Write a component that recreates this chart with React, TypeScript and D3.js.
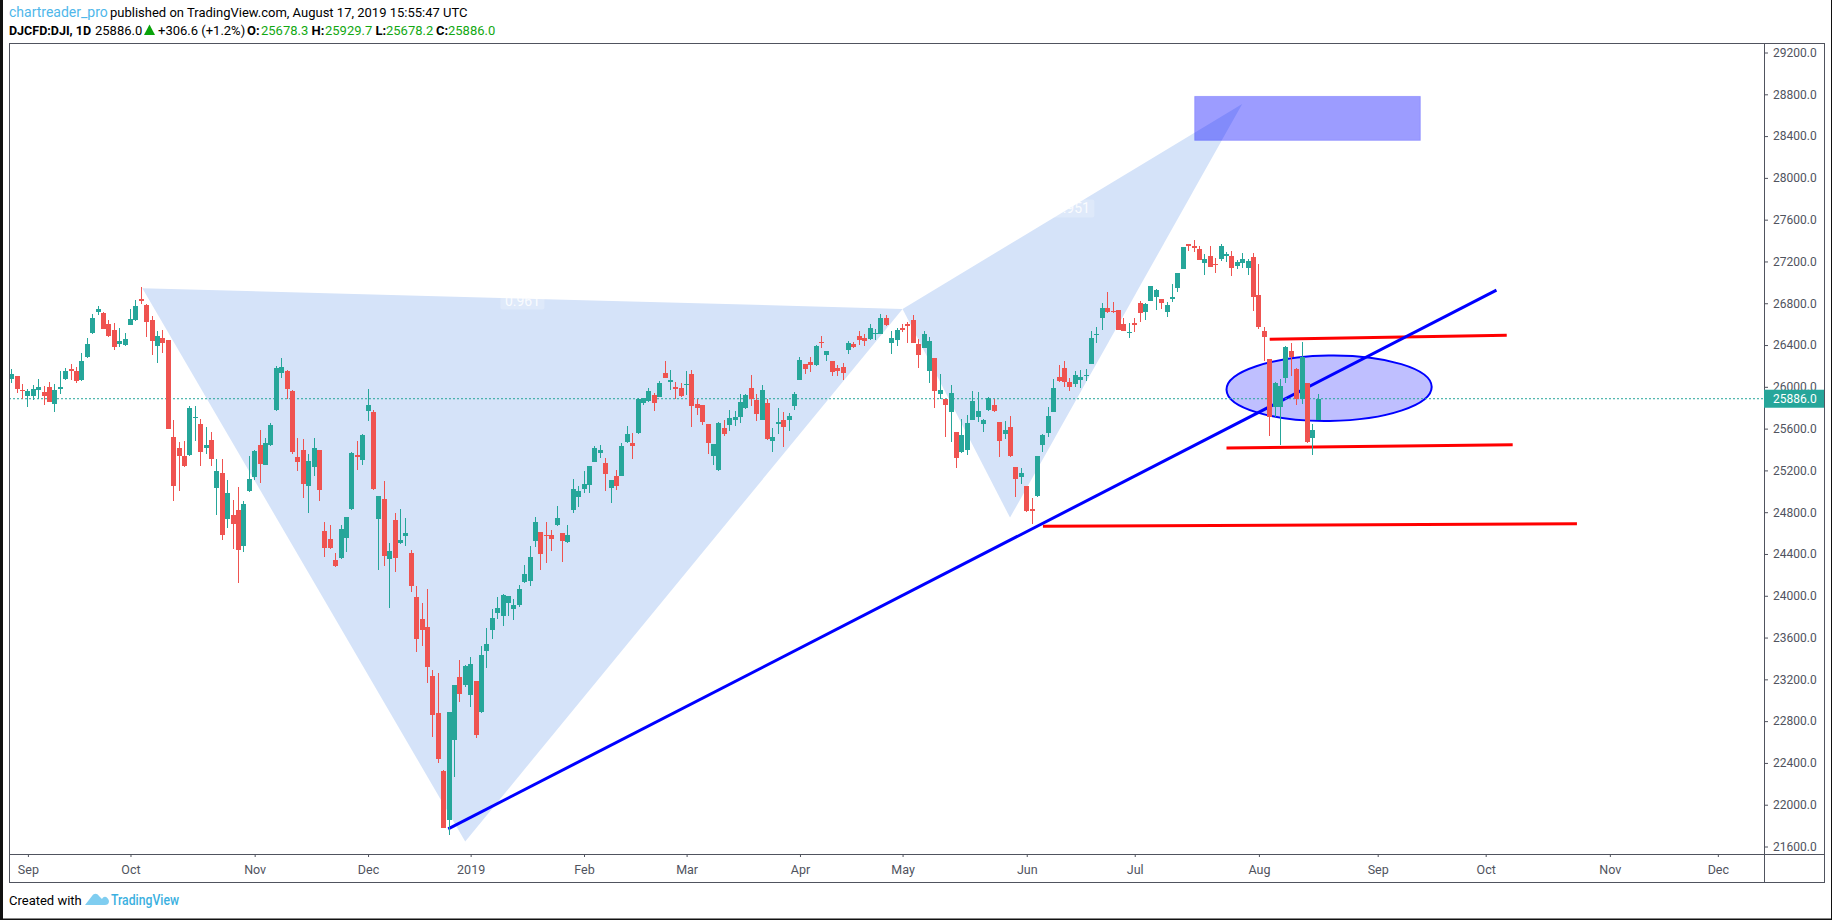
import { useEffect, useRef } from 'react'
import * as d3 from 'd3'

const WIDTH = 1832
const HEIGHT = 920

const opens = [
  26073, 26101, 25967, 25910, 25910, 25967, 25948, 25996, 25833, 25977,
  26073, 26168, 26149, 26063, 26283, 26513, 26714, 26705, 26600, 26542,
  26408, 26398, 26590, 26638, 26839, 26782, 26638, 26389, 26465, 26446,
  25517, 25412, 25335, 25345, 25699, 25641, 25412, 25488, 25028, 25172,
  24731, 24770, 24818, 24473, 25000, 25134, 25440, 25249, 25440, 25776,
  26130, 26149, 25958, 25325, 25392, 25048, 25230, 25392, 24617, 24540,
  24339, 24358, 24549, 24827, 25345, 25297, 25766, 25756, 24731, 24923,
  24348, 24722, 24502, 24569, 24406, 23985, 23774, 23697, 23228, 22874,
  22318, 21849, 22624, 23218, 23142, 23046, 23180, 22883, 23467, 23669,
  23831, 23802, 23927, 23870, 23908, 24128, 24138, 24521, 24607, 24578,
  24578, 24674, 24598, 24511, 24818, 24942, 25019, 25057, 25278, 25364,
  25268, 25029, 25144, 25144, 25469, 25459, 25555, 25842, 25862, 25919,
  25900, 26130, 26044, 25996, 25986, 26015, 26120, 25833, 25823, 25641,
  25335, 25200, 25603, 25632, 25680, 25708, 25794, 25986, 25871, 25680,
  25842, 25478, 25641, 25679, 25679, 25814, 26063, 26216, 26235, 26206,
  26427, 26302, 26245, 26178, 26187, 26350, 26407, 26484, 26465, 26455,
  26503, 26503, 26657, 26417, 26446, 26561, 26599, 26637, 26407, 26369,
  26149, 26273, 25929, 25881, 25756, 25564, 25373, 25392, 25680, 25708,
  25641, 25775, 25823, 25661, 25546, 25613, 25230, 25134, 25048, 24827,
  24952, 25440, 25555, 25757, 26092, 26178, 26044, 26025, 26063, 26101,
  26216, 26494, 26657, 26753, 26724, 26734, 26600, 26513, 26609, 26801,
  26714, 26820, 26858, 26839, 26714, 26839, 26944, 27126, 27366, 27347,
  27318, 27184, 27251, 27174, 27222, 27251, 27251, 27155, 27184, 27136,
  27241, 26877, 26533, 26264, 25804, 25804, 26082, 26341, 26168, 25887,
  26034, 25508, 25678.3,
]

const highs = [
  26172, 26105, 26025, 25977, 26015, 26073, 26006, 26044, 26025, 26149,
  26184, 26216, 26188, 26322, 26465, 26695, 26772, 26714, 26638, 26609,
  26561, 26513, 26743, 26829, 26954, 26791, 26676, 26532, 26542, 26446,
  25680, 25469, 25479, 25814, 25814, 25689, 25613, 25565, 25306, 25306,
  25105, 24914, 25038, 24904, 25335, 25392, 25584, 25507, 25651, 26197,
  26274, 26159, 25967, 25507, 25498, 25354, 25507, 25395, 24703, 24674,
  24406, 24674, 24755, 25373, 25479, 25546, 25977, 25776, 24955, 25096,
  24502, 24789, 24827, 24741, 24435, 24090, 23927, 24061, 23285, 23257,
  22337, 22890, 23145, 23381, 23333, 23410, 23183, 23515, 23688, 23870,
  23985, 24013, 23998, 23965, 24099, 24291, 24473, 24751, 24610, 24703,
  24626, 24856, 24600, 24674, 25115, 25048, 25191, 25241, 25431, 25441,
  25316, 25108, 25201, 25460, 25622, 25555, 25890, 25895, 25986, 25938,
  26053, 26245, 26158, 26044, 26034, 26149, 26158, 25881, 25830, 25645,
  25453, 25660, 25679, 25775, 25766, 25929, 25929, 26110, 25929, 26015,
  25881, 25603, 25794, 25756, 25746, 25948, 26283, 26218, 26283, 26398,
  26484, 26342, 26247, 26206, 26225, 26436, 26427, 26532, 26503, 26599,
  26551, 26695, 26685, 26532, 26561, 26599, 26618, 26685, 26455, 26532,
  26475, 26275, 26120, 25885, 26015, 25566, 25689, 25727, 25957, 25948,
  25690, 25900, 25881, 25665, 25670, 25718, 25232, 25220, 25050, 24933,
  25338, 25546, 25804, 26073, 26207, 26245, 26082, 26149, 26159, 26168,
  26532, 26571, 26801, 26906, 26810, 26736, 26657, 26609, 26657, 26820,
  26800, 26968, 26940, 26842, 26810, 26983, 27090, 27340, 27368, 27404,
  27347, 27270, 27347, 27232, 27366, 27289, 27299, 27213, 27280, 27222,
  27280, 27174, 26571, 26267, 26044, 26073, 26389, 26418, 26178, 26427,
  26036, 25642, 25929.7,
]

const lows = [
  26034, 25939, 25887, 25804, 25871, 25881, 25824, 25850, 25757, 25929,
  26063, 26069, 26034, 26060, 26280, 26510, 26686, 26550, 26475, 26350,
  26379, 26389, 26588, 26628, 26791, 26475, 26303, 26226, 26322, 25594,
  24904, 25000, 25236, 25342, 25479, 25239, 25354, 25239, 24770, 24530,
  24645, 24444, 24118, 24415, 24998, 25105, 25076, 25247, 25438, 25766,
  26082, 25888, 25354, 25191, 24933, 24789, 25143, 24904, 24367, 24452,
  24272, 24356, 24415, 24825, 25201, 25249, 25670, 25009, 24243, 24281,
  23879, 24224, 24500, 24473, 24032, 23458, 23515, 23161, 22644, 22395,
  21778, 21714, 22270, 22979, 23123, 22931, 22634, 22880, 23305, 23582,
  23774, 23707, 23802, 23764, 23889, 24119, 24090, 24464, 24243, 24310,
  24425, 24672, 24320, 24502, 24789, 24847, 24981, 24981, 25276, 25316,
  25000, 24885, 25010, 25142, 25467, 25306, 25553, 25823, 25855, 25766,
  25898, 26080, 25967, 25881, 25900, 25919, 25612, 25727, 25632, 25354,
  25248, 25198, 25526, 25574, 25622, 25651, 25785, 25814, 25670, 25678,
  25495, 25373, 25545, 25421, 25574, 25775, 26061, 26120, 26139, 26204,
  26369, 26245, 26101, 26101, 26063, 26312, 26369, 26398, 26388, 26446,
  26446, 26501, 26580, 26312, 26388, 26522, 26417, 26415, 26178, 26367,
  26034, 25794, 25881, 25517, 25469, 25220, 25371, 25344, 25678, 25660,
  25565, 25773, 25756, 25325, 25498, 25333, 24942, 25067, 24806, 24684,
  24950, 25373, 25517, 25755, 26050, 25996, 25958, 25996, 25986, 26054,
  26214, 26418, 26542, 26705, 26705, 26540, 26530, 26465, 26523, 26619,
  26638, 26818, 26734, 26743, 26667, 26810, 26906, 27124, 27299, 27289,
  27211, 27069, 27143, 27088, 27203, 27193, 27059, 27126, 27133, 27069,
  26724, 26552, 26245, 25527, 25709, 25440, 26034, 26101, 25824, 25833,
  25467, 25345, 25678.2,
]

const closes = [
  26121, 25977, 25958, 25958, 25977, 25996, 25910, 25852, 25967, 25996,
  26149, 26149, 26054, 26245, 26408, 26657, 26743, 26552, 26485, 26379,
  26437, 26456, 26647, 26772, 26820, 26619, 26437, 26485, 26418, 25594,
  25048, 25335, 25239, 25795, 25709, 25373, 25440, 25306, 25191, 24578,
  24981, 24684, 24435, 24875, 25115, 25383, 25258, 25459, 25632, 26178,
  26188, 25977, 25373, 25278, 25067, 25287, 25412, 25009, 24454, 24454,
  24281, 24636, 24751, 25364, 25325, 25536, 25824, 25019, 24952, 24377,
  24425, 24358, 24530, 24597, 24090, 23582, 23668, 23314, 22854, 22433,
  21781, 22883, 23142, 23056, 23324, 23343, 22672, 23429, 23534, 23784,
  23879, 24004, 23994, 23908, 24061, 24205, 24368, 24703, 24396, 24569,
  24540, 24741, 24521, 24578, 25019, 25000, 25067, 25239, 25412, 25393,
  25163, 25105, 25048, 25431, 25545, 25430, 25881, 25890, 25957, 25842,
  26034, 26082, 26063, 25976, 25909, 26024, 25814, 25794, 25660, 25459,
  25450, 25651, 25545, 25699, 25708, 25852, 25919, 25881, 25737, 25967,
  25497, 25517, 25660, 25612, 25718, 25929, 26254, 26168, 26206, 26388,
  26417, 26340, 26139, 26149, 26130, 26417, 26379, 26446, 26436, 26561,
  26513, 26657, 26589, 26465, 26542, 26542, 26580, 26417, 26302, 26503,
  26436, 25957, 25967, 25823, 25938, 25315, 25536, 25651, 25862, 25766,
  25679, 25890, 25766, 25479, 25584, 25335, 25115, 25172, 24808, 24808,
  25335, 25536, 25718, 25986, 26054, 26044, 25996, 26111, 26092, 26111,
  26465, 26504, 26753, 26714, 26714, 26542, 26532, 26523, 26590, 26705,
  26791, 26964, 26925, 26801, 26782, 26858, 27088, 27337, 27347, 27328,
  27213, 27222, 27145, 27165, 27347, 27270, 27136, 27193, 27222, 27203,
  26858, 26571, 26475, 25709, 26034, 26006, 26379, 26283, 25887, 26287,
  25469, 25584, 25886,
]

const lastPrice = 25886

const priceTicks = d3.range(21600, 29201, 400)

// month labels and the bar number each one sits on
const monthLabels = ['Sep', 'Oct', 'Nov', 'Dec', '2019', 'Feb', 'Mar', 'Apr', 'May', 'Jun', 'Jul', 'Aug', 'Sep', 'Oct', 'Nov', 'Dec']
const monthBars = [3, 22, 45, 66, 85, 106, 125, 146, 165, 188, 208, 231, 253, 273, 296, 316]

// drawings, as [bar number, price]
const harmonicXAB: [number, number][] = [[24.2, 26944], [84, 21648], [165, 26746]]
const harmonicBCD: [number, number][] = [[165, 26746], [184.9, 24748], [227.9, 28707]]
const harmonicLabels = ['0.961', '0.951']
const trendLine: [number, number][] = [[80.85, 21769], [275, 26925]]
const redLines: [number, number][][] = [
  [[233, 26456], [276.9, 26494]],
  [[225, 25415], [278, 25445]],
  [[191, 24665], [289.9, 24689]],
]
const targetBox: [number, number][] = [[219.1, 28780], [260.9, 28359]]
const ellipseCenter: [number, number] = [244, 25986]
const ellipseRadii: [number, number] = [19, 313]

const TEAL = '#26a69a'
const RED = '#ef5350'
const AXIS = '#50535e'
const INK = '#000'
const FONT = 'Roboto, sans-serif'

const App = () => {
  const svgRef = useRef<SVGSVGElement>(null)

  useEffect(() => {
    if (!svgRef.current) return

    const plot = { left: 9, right: 1764, top: 43, bottom: 854 }
    const frameRight = 1824
    const frameBottom = 882

    const x = d3.scaleLinear().domain([0, 242]).range([11.7, 1318.3])
    const y = d3.scaleLinear().domain([21600, 28800]).range([846.5, 94.3])

    const svg = d3.select(svgRef.current)
    svg.selectAll('*').remove()

    svg.append('rect').attr('width', WIDTH).attr('height', HEIGHT).attr('fill', '#fff')

    svg.append('clipPath').attr('id', 'plot-clip')
      .append('rect')
      .attr('x', plot.left).attr('y', plot.top)
      .attr('width', plot.right - plot.left).attr('height', plot.bottom - plot.top)

    const pane = svg.append('g').attr('clip-path', 'url(#plot-clip)')
    const line = d3.line<[number, number]>().x(d => x(d[0])).y(d => y(d[1]))

    // harmonic pattern
    pane.selectAll('.harmonic')
      .data([harmonicXAB, harmonicBCD])
      .enter().append('path')
      .attr('class', 'harmonic')
      .attr('d', d => line(d) + 'Z')
      .attr('fill', '#d5e3f9')

    // ratio labels, half way along X-B and B-D
    const labelSpots = [[harmonicXAB[0], harmonicXAB[2]], [harmonicBCD[0], harmonicBCD[2]]]
    labelSpots.forEach((pair, i) => {
      const cx = (x(pair[0][0]) + x(pair[1][0])) / 2
      const cy = (y(pair[0][1]) + y(pair[1][1])) / 2 + 2
      pane.append('rect')
        .attr('x', cx - 22).attr('y', cy - 9)
        .attr('width', 44).attr('height', 18).attr('rx', 2)
        .attr('fill', '#fff').attr('fill-opacity', 0.22)
      pane.append('text')
        .attr('x', cx).attr('y', cy + 5)
        .attr('text-anchor', 'middle')
        .style('font', `14px ${FONT}`)
        .attr('fill', '#fff').attr('fill-opacity', 0.85)
        .text(harmonicLabels[i])
    })

    // target box
    pane.append('rect')
      .attr('x', x(targetBox[0][0])).attr('y', y(targetBox[0][1]))
      .attr('width', x(targetBox[1][0]) - x(targetBox[0][0]))
      .attr('height', y(targetBox[1][1]) - y(targetBox[0][1]))
      .attr('fill', 'rgba(0,0,255,0.39)')
      .attr('stroke', 'rgba(0,0,255,0.2)')

    // ellipse
    const ex = x(ellipseCenter[0])
    const ey = y(ellipseCenter[1])
    pane.append('ellipse')
      .attr('cx', ex).attr('cy', ey)
      .attr('rx', x(ellipseCenter[0] + ellipseRadii[0]) - ex)
      .attr('ry', y(ellipseCenter[1] - ellipseRadii[1]) - ey)
      .attr('transform', `rotate(-0.8 ${ex} ${ey})`)
      .attr('fill', 'rgba(0,0,255,0.25)')
      .attr('stroke', '#0000ff')
      .attr('stroke-width', 2)

    // support and resistance
    pane.selectAll('.level')
      .data(redLines)
      .enter().append('path')
      .attr('class', 'level')
      .attr('d', d => line(d))
      .attr('stroke', '#ff0000')
      .attr('stroke-width', 3)
      .attr('fill', 'none')

    pane.append('path')
      .attr('d', line(trendLine))
      .attr('stroke', '#0000ff')
      .attr('stroke-width', 3)
      .attr('fill', 'none')

    // last price line
    pane.append('line')
      .attr('x1', plot.left).attr('x2', plot.right)
      .attr('y1', y(lastPrice)).attr('y2', y(lastPrice))
      .attr('stroke', TEAL)
      .attr('stroke-dasharray', '2 2')

    // candles
    const candles = pane.append('g').attr('shape-rendering', 'crispEdges')
    const node = candles.selectAll('.candle')
      .data(opens.map((o, i) => ({ i, o, h: highs[i], l: lows[i], c: closes[i] })))
      .enter().append('g')
      .attr('class', 'candle')
      .attr('fill', d => (d.c >= d.o ? TEAL : RED))

    node.append('rect')
      .attr('x', d => Math.floor(x(d.i)))
      .attr('width', 1)
      .attr('y', d => y(d.h))
      .attr('height', d => y(d.l) - y(d.h))

    node.append('rect')
      .attr('x', d => Math.floor(x(d.i)) - 2)
      .attr('width', 5)
      .attr('y', d => y(Math.max(d.o, d.c)))
      .attr('height', d => Math.max(1, y(Math.min(d.o, d.c)) - y(Math.max(d.o, d.c))))

    // frame
    svg.append('rect')
      .attr('x', plot.left).attr('y', plot.top)
      .attr('width', frameRight - plot.left).attr('height', frameBottom - plot.top)
      .attr('fill', 'none').attr('stroke', AXIS).attr('shape-rendering', 'crispEdges')
    svg.append('line')
      .attr('x1', plot.right).attr('x2', plot.right)
      .attr('y1', plot.top).attr('y2', frameBottom)
      .attr('stroke', AXIS).attr('shape-rendering', 'crispEdges')
    svg.append('line')
      .attr('x1', plot.left).attr('x2', frameRight)
      .attr('y1', plot.bottom).attr('y2', plot.bottom)
      .attr('stroke', AXIS).attr('shape-rendering', 'crispEdges')

    // axes
    const priceAxis = svg.append('g')
      .attr('transform', `translate(${plot.right},0)`)
      .call(d3.axisRight(y).tickValues(priceTicks).tickSize(4).tickPadding(5).tickFormat(d => (+d).toFixed(1)))
    const timeAxis = svg.append('g')
      .attr('transform', `translate(0,${plot.bottom})`)
      .call(d3.axisBottom(x).tickValues(monthBars).tickSize(3).tickPadding(8).tickFormat((_, i) => monthLabels[i]))
    for (const axis of [priceAxis, timeAxis]) {
      axis.select('.domain').remove()
      axis.selectAll('line').attr('stroke', AXIS)
      axis.selectAll('text').attr('fill', AXIS).style('font', `12px ${FONT}`)
    }
    timeAxis.selectAll<SVGTextElement, number>('text').style('font-size', '12.5px')

    // last price tag
    svg.append('rect')
      .attr('x', plot.right).attr('y', y(lastPrice) - 9)
      .attr('width', frameRight - plot.right).attr('height', 18)
      .attr('fill', TEAL)
    svg.append('text')
      .attr('x', plot.right + 9).attr('y', y(lastPrice) + 4.5)
      .style('font', `12px ${FONT}`)
      .attr('fill', '#fff')
      .text(lastPrice.toFixed(1))

    // header
    const header = (text: string, tx: number, ty: number, fill: string, bold = false, size = 13) =>
      svg.append('text')
        .attr('x', tx).attr('y', ty)
        .attr('fill', fill)
        .style('font', `${bold ? 'bold ' : ''}${size}px ${FONT}`)
        .text(text)

    const GREEN = '#12a812'
    header('chartreader_pro', 9, 17, '#4fb7ea', false, 14)
    header('published on TradingView.com, August 17, 2019 15:55:47 UTC', 110, 17, INK)
    header('DJCFD:DJI, 1D', 9, 35, INK, true, 12.5)
    header('25886.0', 95, 35, INK)
    svg.append('path').attr('d', 'M149.5,24.5L155,35L144,35Z').attr('fill', '#0aa30a')
    header('+306.6 (+1.2%)', 158, 35, INK)
    header('O:', 247, 35, INK, true)
    header('25678.3', 261, 35, GREEN)
    header('H:', 311.5, 35, INK, true)
    header('25929.7', 325, 35, GREEN)
    header('L:', 375.5, 35, INK, true)
    header('25678.2', 386, 35, GREEN)
    header('C:', 436, 35, INK, true)
    header('25886.0', 448, 35, GREEN)

    // footer
    header('Created with', 9, 905, INK)
    svg.append('path')
      .attr('d', 'M85,905L92,896C94,893 97,893 99,896L102,899C104,895 108,897 109,901C109,904 107,905 105,905Z')
      .attr('fill', '#7fcdf0')
    svg.append('text')
      .attr('x', 111).attr('y', 905)
      .attr('fill', '#3bb0e0')
      .attr('textLength', 68)
      .attr('lengthAdjust', 'spacingAndGlyphs')
      .style('font', `500 14px ${FONT}`)
      .text('TradingView')

    // screenshot edge
    svg.append('rect').attr('x', 0).attr('y', 0).attr('width', 3).attr('height', HEIGHT).attr('fill', '#111')
    svg.append('rect').attr('x', 0).attr('y', 918.5).attr('width', WIDTH).attr('height', 1.5).attr('fill', '#111')
    svg.append('rect').attr('x', 1831).attr('y', 0).attr('width', 1).attr('height', HEIGHT).attr('fill', '#111')
  }, [])

  return (
    <svg
      ref={svgRef}
      width={WIDTH}
      height={HEIGHT}
      style={{ position: 'absolute', left: 0, top: 0, display: 'block' }}
    />
  )
}

export default App
